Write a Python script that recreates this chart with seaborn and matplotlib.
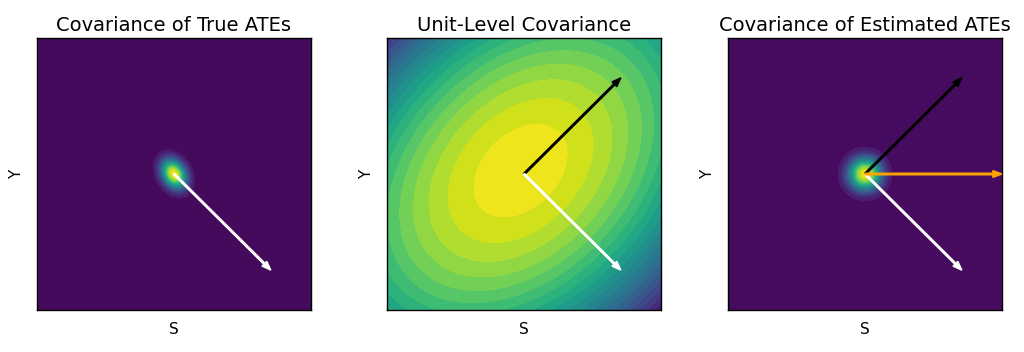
import numpy as np
import matplotlib
matplotlib.use("Agg")
import matplotlib.pyplot as plt
import seaborn as sns

# ---------------- data ----------------
titles = ["Covariance of True ATEs", "Unit-Level Covariance", "Covariance of Estimated ATEs"]
x_label = "S"
y_label = "Y"
grid_lim = 3.0

means = [(0.0, 0.0), (-0.075, 0.075), (0.0, 0.0)]
cov_true = [[0.034, -0.011], [-0.011, 0.047]]
cov_unit = [[312.5, 112.5], [112.5, 312.5]]
cov_est = [[0.06, 0.0], [0.0, 0.06]]
covs = [cov_true, cov_unit, cov_est]

# arrows per panel: (dx, dy, colour)
arrows = [
    [(2.121, -2.121, "white")],
    [(2.121, 2.121, "black"), (2.121, -2.121, "white")],
    [(2.121, 2.121, "black"), (2.121, -2.121, "white"), (3.0, 0.0, "orange")],
]

# ---------------- style ----------------
sns.set_theme(style="white", rc={"axes.edgecolor": "black", "axes.linewidth": 1.0,
                                 "text.color": "black", "axes.labelcolor": "black"})
plt.rcParams["font.family"] = ["DejaVu Sans"]
cmap = sns.color_palette("viridis", as_cmap=True)

fig = plt.figure(figsize=(10.24, 3.52), dpi=100)
lefts = [37 / 1024, 387 / 1024, 728 / 1024]
bottom = (352 - 310) / 352
w = 274 / 1024
h = 272 / 352

g = np.linspace(-grid_lim, grid_lim, 300)
X, Y = np.meshgrid(g, g)
pos = np.dstack([X, Y])


def pdf(mean, cov):
    cov = np.asarray(cov)
    inv = np.linalg.inv(cov)
    d = pos - np.asarray(mean)
    q = np.einsum("...i,ij,...j->...", d, inv, d)
    return np.exp(-0.5 * q) / (2 * np.pi * np.sqrt(np.linalg.det(cov)))


for i in range(3):
    ax = fig.add_axes([lefts[i], bottom, w, h])
    Z = pdf(means[i], covs[i])
    if i == 1:
        zmin, zmax = Z.min(), Z.max()
        step = (zmax - zmin) / 19.5
        levels = np.sort(zmax - step * (0.7 + np.arange(-1, 21)))
        ax.contourf(X, Y, Z, levels=levels, cmap=cmap)
    else:
        ax.contourf(X, Y, Z, levels=20, cmap=cmap)
    for dx, dy, col in arrows[i]:
        ax.arrow(0, 0, dx, dy, width=0.035, head_width=0.15, head_length=0.2,
                 length_includes_head=True, color=col, zorder=5)
    ax.set_xlim(-grid_lim, grid_lim)
    ax.set_ylim(-grid_lim, grid_lim)
    ax.set_xticks([])
    ax.set_yticks([])
    ax.set_title(titles[i], fontsize=14, pad=5, color="black")
    ax.set_xlabel(x_label, fontsize=11, labelpad=9)
    ax.set_ylabel(y_label, fontsize=11, labelpad=9)
    for s in ax.spines.values():
        s.set_visible(True)
        s.set_color("black")

fig.savefig("out.png", dpi=100)
